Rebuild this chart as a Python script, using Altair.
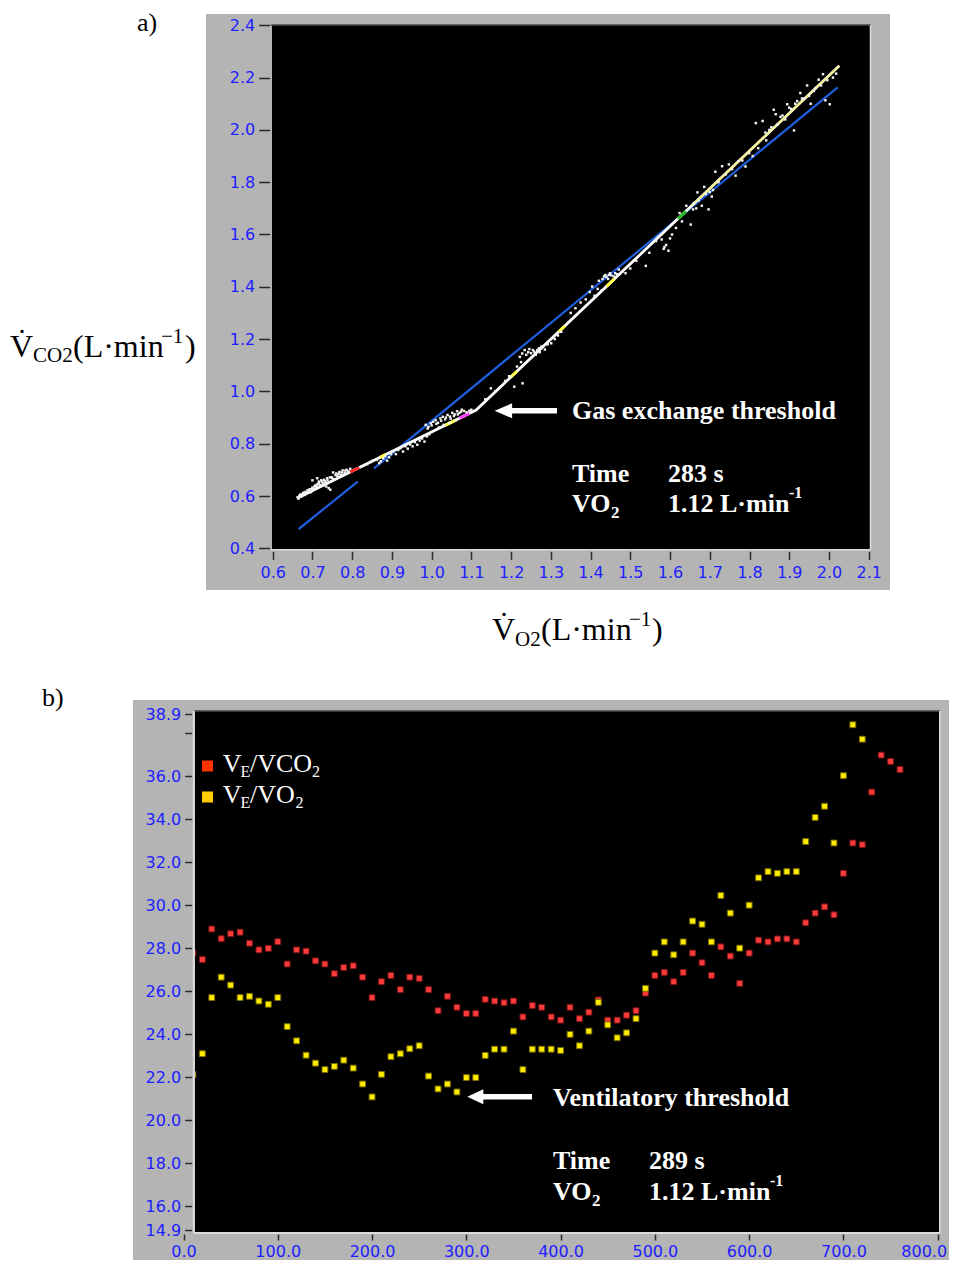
import altair as alt
import pandas as pd

# ======================= Panel a data (L/min) =======================
vo2_pts = [0.663,0.667,0.670,0.672,0.676,0.680,0.683,0.686,0.690,0.693,0.697,0.700,0.703,0.707,0.710,0.713,0.716,0.719,0.722,0.726,0.729,0.733,0.737,0.741,0.745,0.748,0.752,0.756,0.760,0.763,0.768,0.772,0.776,0.781,0.786,0.790,0.795,
           0.665,0.669,0.674,0.678,0.684,0.688,0.695,0.699,0.705,0.711,0.717,0.724,0.731,0.738,0.744,0.750,0.758,0.766,0.774,0.783,0.700,0.712,0.727,0.735,
           0.822,0.830,0.838,0.846,0.852,
           0.862,0.868,0.872,0.878,0.883,0.888,0.893,0.898,0.905,0.910,0.916,0.922,0.928,0.934,0.940,0.946,0.952,0.958,0.964,0.970,0.976,0.982,0.988,0.994,
           0.985,0.992,0.998,1.004,1.010,1.016,1.022,1.028,1.034,1.040,1.046,1.052,1.058,1.064,1.070,1.076,1.082,1.018,1.030,1.045,1.060,
           0.990,1.000,1.012,1.024,1.036,1.048,1.056,1.066,1.074,1.088,1.095,1.100,
           1.135,1.149,1.160,1.172,1.185,1.195,1.208,1.229,1.215,1.225,1.234,1.243,1.255,1.262,1.270,1.276,1.285,1.292,1.301,1.310,1.318,1.326,
           1.222,1.228,1.238,1.246,1.250,1.258,1.266,1.272,1.280,
           1.350,1.362,1.375,1.388,1.398,1.404,1.410,1.418,1.421,1.428,1.437,1.444,1.449,1.458,1.471,1.480,1.488,1.500,1.515,1.539,1.548,
           1.430,1.434,1.440,1.446,1.452,1.462,1.466,
           1.565,1.579,1.584,1.590,1.596,1.605,1.615,1.624,1.630,1.641,1.652,1.658,1.669,1.680,1.686,1.697,1.705,
           1.570,1.586,1.600,1.660,1.666,1.672,1.690,1.700,1.708,
           1.714,1.722,1.731,1.740,1.748,1.756,1.765,1.772,1.782,1.790,1.799,1.808,1.816,1.822,
           1.833,1.842,1.850,1.861,1.870,1.883,1.890,1.895,1.905,1.912,1.920,1.928,1.937,1.945,1.954,1.962,1.974,1.985,1.991,2.002,2.010,2.018,
           1.840,1.855,1.866,1.878,1.900,1.915,1.932,1.950,1.966,1.980,1.996]
vco2_pts = [0.595,0.600,0.606,0.598,0.610,0.604,0.616,0.612,0.620,0.626,0.618,0.632,0.625,0.640,0.634,0.646,0.655,0.641,0.660,0.648,0.662,0.652,0.668,0.630,0.624,0.672,0.690,0.664,0.686,0.676,0.692,0.681,0.698,0.688,0.700,0.694,0.704,
            0.590,0.603,0.601,0.613,0.608,0.622,0.614,0.628,0.636,0.641,0.648,0.655,0.657,0.660,0.671,0.668,0.680,0.684,0.690,0.697,0.660,0.668,0.640,0.636,
            0.712,0.718,0.722,0.730,0.735,
            0.738,0.726,0.733,0.744,0.752,0.735,0.748,0.760,0.772,0.760,0.776,0.783,0.770,0.790,0.781,0.797,0.790,0.806,0.796,0.812,0.820,0.808,0.828,0.836,
            0.872,0.865,0.878,0.884,0.890,0.880,0.897,0.903,0.893,0.910,0.904,0.918,0.912,0.924,0.918,0.930,0.925,0.862,0.872,0.880,0.890,
            0.858,0.870,0.876,0.888,0.900,0.896,0.906,0.912,0.922,0.920,0.926,0.930,
            0.970,1.012,1.000,1.016,1.040,1.058,1.018,1.031,1.095,1.112,1.158,1.150,1.158,1.140,1.165,1.171,1.160,1.180,1.184,1.200,1.214,1.228,
            1.132,1.145,1.140,1.162,1.146,1.152,1.158,1.150,1.172,
            1.300,1.318,1.340,1.352,1.380,1.401,1.366,1.392,1.423,1.386,1.445,1.430,1.452,1.440,1.466,1.458,1.452,1.470,1.500,1.480,1.530,
            1.430,1.440,1.438,1.446,1.444,1.452,1.448,
            1.575,1.581,1.545,1.560,1.538,1.600,1.625,1.682,1.650,1.710,1.638,1.696,1.761,1.710,1.782,1.696,1.745,
            1.590,1.552,1.585,1.720,1.700,1.730,1.755,1.762,1.770,
            1.840,1.800,1.861,1.830,1.868,1.850,1.825,1.880,1.883,1.860,1.911,1.900,2.026,1.930,
            2.034,1.960,2.000,2.077,2.020,2.055,2.040,2.098,2.080,1.998,2.110,2.141,2.120,2.170,2.100,2.149,2.192,2.213,2.113,2.098,2.200,2.215,
            1.990,2.010,2.060,2.050,2.085,2.100,2.120,2.130,2.160,2.170,2.190]

fit_vo2 = [0.661, 1.112, 2.026]
fit_vco2 = [0.591, 0.929, 2.245]
upper_fit_vo2 = [1.655, 2.026]
upper_fit_vco2 = [1.711, 2.245]
reg_group = ["low", "low", "high", "high"]
reg_vo2 = [0.665, 0.814, 0.855, 2.022]
reg_vco2 = [0.473, 0.655, 0.706, 2.163]
bit_vo2 = [0.795, 0.870, 1.035, 1.070, 1.200, 1.320, 1.440, 1.620]
bit_vo2_end = [0.818, 0.885, 1.062, 1.095, 1.215, 1.335, 1.460, 1.640]
bit_vco2 = [0.691, 0.748, 0.871, 0.898, 1.056, 1.228, 1.401, 1.660]
bit_vco2_end = [0.709, 0.759, 0.891, 0.916, 1.077, 1.250, 1.430, 1.689]
bit_color = ["#ff2a2a", "#ffff40", "#ffff40", "#ff40ff", "#ffff40", "#ffff40", "#ffff40", "#20c020"]
a_xticks = [0.6, 0.7, 0.8, 0.9, 1.0, 1.1, 1.2, 1.3, 1.4, 1.5, 1.6, 1.7, 1.8, 1.9, 2.0, 2.1]
a_yticks = [0.4, 0.6, 0.8, 1.0, 1.2, 1.4, 1.6, 1.8, 2.0, 2.2, 2.4]

# ======================= Panel b data =======================
time_vco2 = [10, 20, 30, 40, 50, 60, 70, 80, 90, 100, 110, 120, 130, 140, 150, 160, 170, 180, 190, 200,
             210, 220, 230, 240, 250, 260, 270, 280, 290, 300, 310, 320, 330, 340, 350, 360, 370, 380, 390, 400,
             410, 420, 430, 440, 450, 460, 470, 480, 490, 500, 510, 520, 530, 540, 550, 560, 570, 580, 590, 600,
             610, 620, 630, 640, 650, 660, 670, 680, 690, 700, 710, 720, 730, 740, 750, 760]
ve_vco2 = [27.79, 27.48, 28.90, 28.45, 28.68, 28.75, 28.24, 27.93, 28.00, 28.31, 27.27, 27.93, 27.87, 27.42, 27.27, 26.82, 27.11, 27.19, 26.66, 25.71,
           26.45, 26.74, 26.08, 26.66, 26.60, 26.08, 25.10, 25.77, 25.26, 24.97, 24.97, 25.63, 25.55, 25.47, 25.55, 24.81, 25.34, 25.26, 24.81, 24.66,
           25.26, 24.73, 25.03, 25.60, 24.66, 24.66, 24.89, 25.10, 25.92, 26.74, 26.88, 26.45, 26.88, 27.78, 27.33, 26.74, 28.07, 27.64, 26.37, 27.78,
           28.38, 28.30, 28.44, 28.44, 28.30, 29.19, 29.64, 29.93, 29.56, 31.49, 32.90, 32.82, 35.27, 36.99, 36.69, 36.32]
time_vo2 = [10, 20, 30, 40, 50, 60, 70, 80, 90, 100, 110, 120, 130, 140, 150, 160, 170, 180, 190, 200,
            210, 220, 230, 240, 250, 260, 270, 280, 290, 300, 310, 320, 330, 340, 350, 360, 370, 380, 390, 400,
            410, 420, 430, 440, 450, 460, 470, 480, 490, 500, 510, 520, 530, 540, 550, 560, 570, 580, 590, 600,
            610, 620, 630, 640, 650, 660, 670, 680, 690, 700, 710, 720]
ve_vo2 = [22.13, 23.10, 25.71, 26.66, 26.29, 25.71, 25.77, 25.55, 25.40, 25.71, 24.36, 23.70, 23.03, 22.66, 22.36, 22.51, 22.80, 22.43, 21.69, 21.09,
          22.14, 22.96, 23.10, 23.33, 23.47, 22.06, 21.46, 21.69, 21.32, 21.99, 21.99, 23.02, 23.31, 23.31, 24.15, 22.36, 23.31, 23.31, 23.31, 23.25,
          24.00, 23.47, 24.15, 25.49, 24.44, 23.84, 24.07, 24.73, 26.14, 27.78, 28.30, 27.70, 28.30, 29.27, 29.12, 28.30, 30.46, 29.64, 28.01, 30.01,
          31.28, 31.57, 31.49, 31.57, 31.57, 32.97, 34.09, 34.61, 32.90, 36.03, 38.40, 37.73]
b_xticks = [0, 100, 200, 300, 400, 500, 600, 700, 800]
b_yticks = [14.9, 16, 18, 20, 22, 24, 26, 28, 30, 32, 34, 36, 38, 38.9]

# ======================= layout (page pixels) =======================
W, H = 941, 1252          # whole drawing = one view, page origin at (8, 8)
P = (8.0, 8.0)
ONE = alt.Data(values=[{"k": 0}])
GREY = "#b4b4b4"
BLUE_LBL = "#2020ff"
SERIF = "Liberation Serif"

# panel a plot box (page px)
A_L, A_R, A_T, A_B = 272.7, 868.7, 25.3, 548.3
# panel b plot box (page px)
B_L, B_R, B_T, B_B = 183.5, 937.7, 714.0, 1230.0


def px(x):
    return x - P[0]


def py(y):
    return y - P[1]


def rect(x1, y1, x2, y2, color):
    return alt.Chart(ONE).mark_rect(color=color).encode(
        x=alt.value(px(x1)), x2=alt.value(px(x2)), y=alt.value(py(y1)), y2=alt.value(py(y2)))


def hline(x1, x2, y, color, w):
    return alt.Chart(ONE).mark_rule(color=color, strokeWidth=w).encode(
        x=alt.value(px(x1)), x2=alt.value(px(x2)), y=alt.value(py(y)))


def vline(x, y1, y2, color, w):
    return alt.Chart(ONE).mark_rule(color=color, strokeWidth=w).encode(
        x=alt.value(px(x)), y=alt.value(py(y1)), y2=alt.value(py(y2)))


def T(text, x, y, size, bold=False, color="white"):
    return alt.Chart(ONE).mark_text(
        text=text, font=SERIF, fontSize=size, fontWeight="bold" if bold else "normal",
        color=color, align="left", baseline="alphabetic").encode(
        x=alt.value(px(x)), y=alt.value(py(y)))


def arrow(tip_x, head_len, half_h, shaft_end, y, shaft_w):
    shaft = hline(tip_x + head_len - 2, shaft_end, y, "white", shaft_w)
    ratio = half_h / (head_len / 2.0)
    head = alt.Chart(ONE).mark_point(
        shape=f"M -1 0 L 1 {-ratio:.3f} L 1 {ratio:.3f} Z", filled=True,
        size=head_len ** 2, color="white", opacity=1).encode(
        x=alt.value(px(tip_x + head_len / 2.0)), y=alt.value(py(y)))
    return [shaft, head]


def axis(values, orient, offset, tick, pad, size, expr=None, label_offset=None):
    kw = dict(values=values, format=".1f", title=None, grid=False, domain=False,
              orient=orient, offset=offset, tickSize=tick, tickColor="#2a2a2a", tickWidth=1.5,
              labelColor=BLUE_LBL, labelFont="DejaVu Sans", labelFontSize=size,
              labelPadding=pad, labelFlush=False, labelOverlap=False, zindex=1)
    if expr:
        kw["labelExpr"] = expr
    if label_offset is not None:
        kw["labelOffset"] = label_offset
    return alt.Axis(**kw)


# ---- panel a scales / axes (explicit pixel ranges place the panel on the page)
SXA = alt.Scale(domain=[0.6, 2.1], range=[px(A_L), px(A_R)], nice=False, zero=False)
SYA = alt.Scale(domain=[0.4, 2.4], range=[py(A_B), py(A_T)], nice=False, zero=False)
AXA = axis(a_xticks, "bottom", -(H - py(A_B + 3)), 8, 5, 16)
AYA = axis(a_yticks, "left", -px(A_L - 3), 11, 4, 16)


def XA(f, show=False):
    return alt.X(f, type="quantitative", scale=SXA, axis=AXA if show else None)


def YA(f, show=False):
    return alt.Y(f, type="quantitative", scale=SYA, axis=AYA if show else None)


# ---- panel b scales / axes
SXB = alt.Scale(domain=[0, 800], range=[px(B_L), px(B_R)], nice=False, zero=False)
SYB = alt.Scale(domain=[14.9, 38.9], range=[py(B_B), py(B_T)], nice=False, zero=False)
AXB = axis(b_xticks, "bottom", -(H - py(B_B + 4)), 6, 3, 16,
           label_offset={"condition": {"test": "datum.value == 800", "value": -14}, "value": 0})
AYB = axis(b_yticks, "left", -px(191.7), 7, 4, 16,
           expr="datum.value == 38 ? '' : format(datum.value, '.1f')")

scatter_df = pd.DataFrame({"vo2": vo2_pts, "vco2": vco2_pts})
fit_df = pd.DataFrame({"vo2": fit_vo2, "vco2": fit_vco2})
ufit_df = pd.DataFrame({"vo2": upper_fit_vo2, "vco2": upper_fit_vco2})
reg_df = pd.DataFrame({"vo2": reg_vo2, "vco2": reg_vco2, "g": reg_group})
bits_df = pd.DataFrame({"vo2": bit_vo2, "vo2e": bit_vo2_end, "vco2": bit_vco2,
                        "vco2e": bit_vco2_end, "c": bit_color})
red_df = pd.DataFrame({"t": time_vco2, "v": ve_vco2})
yel_df = pd.DataFrame({"t": time_vo2, "v": ve_vo2})

layers = [
    # ---------- panel a frame
    rect(206, 14, 890, 590, GREY),
    rect(272, 25, 870, 549, "black"),
    hline(271, 871, 25, "#4a4a4a", 1.5),
    vline(870.5, 25, 550, "#dcdcdc", 1.5),
    hline(271, 871, 549.8, "#dcdcdc", 1.5),
    # ---------- panel a data
    alt.Chart(reg_df).mark_line(color="#1f5fe0", strokeWidth=2.2).encode(
        x=XA("vo2"), y=YA("vco2"), detail="g:N"),
    alt.Chart(fit_df).mark_line(color="white", strokeWidth=2.8).encode(x=XA("vo2"), y=YA("vco2")),
    alt.Chart(ufit_df).mark_line(color="#f4f080", strokeWidth=1.8).encode(x=XA("vo2"), y=YA("vco2")),
    alt.Chart(bits_df).mark_rule(strokeWidth=3).encode(
        x=XA("vo2"), x2="vo2e", y=YA("vco2"), y2="vco2e", color=alt.Color("c:N", scale=None)),
    alt.Chart(scatter_df).mark_square(size=6, color="#f4f4f4", opacity=1).encode(
        x=XA("vo2", True), y=YA("vco2", True)),
]
layers += arrow(494.6, 17.5, 7.5, 557, 410.8, 5.5)
layers += [
    T("Gas exchange threshold", 572, 419, 26, bold=True),
    T("Time", 572, 482, 26, bold=True),
    T("283 s", 668, 482, 26, bold=True),
    T("VO", 572, 512, 26, bold=True),
    T("2", 611, 518, 17, bold=True),
    T("1.12 L\u00b7min", 668, 512, 26, bold=True),
    T("-1", 789, 498, 16, bold=True),
    T("a)", 137, 31, 26, color="black"),
    T("V\u0307", 10, 357, 32, color="black"),
    T("CO2", 33, 362, 21, color="black"),
    T("(L\u00b7min", 73, 357, 32, color="black"),
    T("\u22121", 161, 343, 21, color="black"),
    T(")", 185, 357, 32, color="black"),
    T("V\u0307", 492, 640, 32, color="black"),
    T("O2", 515, 646, 21, color="black"),
    T("(L\u00b7min", 541, 640, 32, color="black"),
    T("\u22121", 629, 626, 21, color="black"),
    T(")", 652, 640, 32, color="black"),
    # ---------- panel b frame
    rect(133, 700, 960, 1270, GREY),
    rect(195, 711, 939, 1232, "black"),
    # ---------- panel b data
    alt.Chart(red_df).mark_square(size=34, color="#ff3c3c", stroke="#7a1414",
                                  strokeWidth=1, opacity=1).encode(
        x=alt.X("t", type="quantitative", scale=SXB, axis=AXB),
        y=alt.Y("v", type="quantitative", scale=SYB, axis=AYB)),
    alt.Chart(yel_df).mark_square(size=34, color="#ffee00", stroke="#7a6a00",
                                  strokeWidth=1, opacity=1).encode(
        x=alt.X("t", type="quantitative", scale=SXB, axis=None),
        y=alt.Y("v", type="quantitative", scale=SYB, axis=None)),
    rect(133, 700, 195, 1270, GREY),
    hline(194, 940, 711, "#4a4a4a", 1.5),
    vline(193.8, 711, 1233, "#dcdcdc", 2),
    hline(194, 940, 1233, "#dcdcdc", 2),
    vline(939.8, 711, 1233, "#dcdcdc", 1.5),
    # legend
    alt.Chart(ONE).mark_square(size=121, color="#ff3300", opacity=1).encode(
        x=alt.value(px(207.5)), y=alt.value(py(766))),
    alt.Chart(ONE).mark_square(size=121, color="#ffcc00", opacity=1).encode(
        x=alt.value(px(207.5)), y=alt.value(py(797))),
    T("V", 222.7, 772.3, 26),
    T("E", 240.5, 777, 16),
    T("/VCO", 250, 772.3, 26),
    T("2", 312, 777, 16),
    T("V", 222.7, 803.3, 26),
    T("E", 240.5, 808, 16),
    T("/VO", 250, 803.3, 26),
    T("2", 295.5, 808, 16),
]
layers += arrow(467.3, 16, 7.5, 532, 1096.7, 5.5)
layers += [
    T("Ventilatory threshold", 553, 1106, 26, bold=True),
    T("Time", 553, 1169, 26, bold=True),
    T("289 s", 649, 1169, 26, bold=True),
    T("VO", 553, 1200, 26, bold=True),
    T("2", 592, 1206, 17, bold=True),
    T("1.12 L\u00b7min", 649, 1200, 26, bold=True),
    T("-1", 770, 1186, 16, bold=True),
    T("b)", 42, 706, 26, color="black"),
]

chart = alt.layer(*layers).resolve_scale(x="independent", y="independent").properties(
    width=W, height=H, padding=0, background="white",
    autosize=alt.AutoSizeParams(type="none"),
).configure_view(stroke=None)

chart.save("out.html", embed_options={"renderer": "svg", "actions": False})
